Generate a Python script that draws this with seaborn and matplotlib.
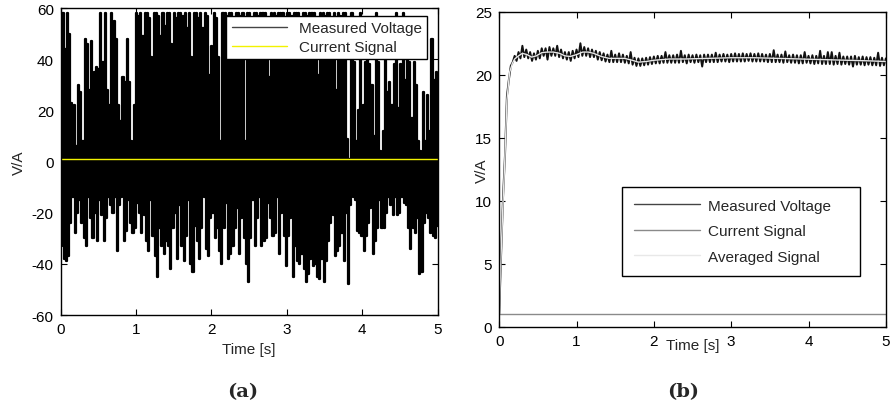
import numpy as np
import seaborn as sns
import matplotlib
matplotlib.use('Agg')
import matplotlib.pyplot as plt

sns.set_style('ticks')
plt.rcParams['font.family'] = ['Liberation Sans', 'DejaVu Sans']
plt.rcParams['font.size'] = 11
plt.rcParams['axes.unicode_minus'] = False

### panel (a) data: upper and lower peaks of the measured voltage
peaks_hi_a = [
    45, 58, 44, 58, 50, 23, 22, 6, 30, 27, 8, 48, 46, 28, 47, 35, 37, 36, 58, 39,
    58, 28, 22, 58, 55, 48, 22, 16, 33, 31, 48, 31, 8, 22,
    58, 57, 58, 49, 58, 58, 56, 41, 58, 58, 57, 49, 58, 53, 58, 58, 46, 58, 56, 58,
    58, 57, 58, 52, 58, 41, 58, 58, 56, 58, 52, 58, 57, 34, 45, 58, 56, 41, 8, 58,
    58, 57, 58, 58, 56, 58, 58, 57, 58, 8, 58, 58, 56, 58, 58, 57, 58, 58, 58, 56,
    33, 58, 58, 57, 58, 58, 58, 56, 58, 58, 57, 58, 58, 58, 56, 58, 58, 57, 58, 58,
    58, 56, 34, 58, 58, 57, 58, 58, 56, 58, 28, 58, 57, 58, 58,
    9, 1, 58, 39, 8, 20, 58, 22, 39, 40, 38, 30, 10, 58, 39, 4, 12, 40, 27, 31,
    22, 38, 58, 21, 38, 58, 32, 40, 39, 17, 39, 30, 8, 4, 27, 8, 26, 12, 48, 32, 35,
]
peaks_lo_a = [
    -33, -38, -39, -37, -24, -14, -28, -20, -15, -24,
    -30, -33, -14, -22, -30, -20, -31, -15, -21, -31,
    -22, -14, -17, -20, -14, -35, -17, -14, -31, -27,
    -15, -24, -28, -26, -16, -20, -28, -21, -31, -35,
    -15, -29, -37, -45, -26, -33, -36, -31, -33, -42,
    -26, -20, -38, -17, -33, -39, -29, -15, -40, -43,
    -25, -31, -38, -26, -14, -34, -37, -22, -20, -30,
    -26, -35, -40, -26, -16, -38, -36, -33, -26, -18,
    -36, -22, -30, -40, -47,
    -30, -15, -33, -22, -14, -33, -31, -30, -16, -22,
    -29, -28, -14, -36, -20, -29, -41, -29, -22, -45,
    -33, -39, -40, -36, -42, -47, -44, -38, -41, -40,
    -45, -46, -38, -47, -39, -31, -24, -21, -37, -35,
    -33, -28, -39, -20, -48, -17, -14, -15, -27, -28,
    -29, -35, -29, -24, -18, -36, -31, -26, -15, -26,
    -26, -20, -14, -17, -21, -14, -21, -20, -14, -16,
    -17, -26, -34, -26, -28, -22, -44, -43, -24, -20,
    -22, -28, -29, -30, -25,
]
time_ends = [0, 5]
current_a = [1, 1]

### panel (b) data
measured_b = [
    1.0, 5.8, 10.3, 13.6, 18.3, 19.6, 20.7, 21.0, 21.5, 21.1,
    21.8, 21.3, 22.3, 21.4, 22.0, 21.3, 21.8, 21.1, 21.7, 21.2,
    21.9, 21.3, 22.1, 21.5, 22.1, 21.2, 22.2, 21.5, 22.1, 21.5,
    22.3, 21.4, 22.0, 21.3, 21.8, 21.2, 21.8, 21.1, 21.9, 21.3,
    22.0, 21.4, 22.5, 21.5, 22.2, 21.5, 22.1, 21.4, 22.0, 21.4,
    21.9, 21.2, 21.8, 21.15, 21.7, 21.05, 21.6, 21.0, 21.9, 21.0,
    21.6, 21.0, 21.7, 21.0, 21.6, 20.95, 21.5, 20.9, 21.8, 20.8,
    21.35, 20.7, 21.3, 20.7, 21.3, 20.75, 21.35, 20.8, 21.4, 20.85,
    21.45, 20.9, 21.5, 20.9, 21.5, 20.95, 21.8, 20.95, 21.55, 20.95,
    21.55, 20.95, 21.6, 20.95, 21.9, 21.0, 21.55, 20.9, 21.6, 21.0,
    21.55, 20.95, 21.6, 21.0, 21.55, 20.65, 21.6, 21.0, 21.6, 21.0,
    21.6, 21.0, 21.75, 21.0, 21.6, 21.05, 21.65, 21.05, 21.6, 21.0,
    21.65, 21.05, 21.7, 21.05, 21.65, 21.05, 21.7, 21.05, 21.65, 21.1,
    21.7, 21.05, 21.65, 21.05, 21.7, 21.05, 21.65, 21.05, 21.6, 21.0,
    21.65, 21.0, 21.95, 21.0, 21.6, 21.0, 21.6, 20.95, 21.85, 21.0,
    21.55, 20.95, 21.6, 20.95, 21.55, 20.9, 21.55, 20.9, 21.8, 20.95,
    21.5, 20.9, 21.55, 20.85, 21.5, 20.9, 21.9, 20.85, 21.5, 20.85,
    21.8, 20.85, 21.8, 20.8, 21.5, 20.85, 21.75, 20.8, 21.45, 20.85,
    21.45, 20.8, 21.45, 20.65, 21.5, 20.8, 21.4, 20.8, 21.45, 20.75,
    21.4, 20.8, 21.4, 20.75, 21.35, 20.75, 21.75, 20.7, 21.35, 20.75,
    21.3,
]
time_avg_b = [0, 0.02, 0.05, 0.07, 0.10, 0.135, 0.17, 0.2, 0.25, 0.3,
              0.36, 0.42, 0.48, 0.55, 0.62, 0.7, 0.78, 0.85, 0.92, 1.0,
              1.08, 1.15, 1.22, 1.32, 1.42, 1.52, 1.62, 1.72, 1.8, 1.9,
              2.0, 2.2, 2.4, 2.7, 3.0, 3.3, 3.6, 3.9, 4.2, 4.5, 4.8, 5.0]
averaged_b = [1.0, 5.0, 10.0, 12.8, 18.0, 20.2, 20.9, 21.25, 21.5, 21.7,
              21.6, 21.4, 21.5, 21.75, 21.8, 21.8, 21.7, 21.5, 21.45, 21.6,
              21.8, 21.8, 21.7, 21.45, 21.3, 21.3, 21.3, 21.15, 21.0, 21.05,
              21.15, 21.25, 21.25, 21.3, 21.35, 21.35, 21.3, 21.25, 21.2, 21.15,
              21.1, 21.05]
current_b = [1, 1]

# interleave peaks into one sampled signal
volt_a = np.empty(len(peaks_hi_a) + len(peaks_lo_a))
volt_a[0::2] = peaks_hi_a
volt_a[1::2] = peaks_lo_a
time_a = np.linspace(0, 5, volt_a.size)
time_b = np.linspace(0, 5, len(measured_b))

fig = plt.figure(figsize=(8.93, 4.10), dpi=100)
ax1 = fig.add_axes([0.068, 0.229, 0.422, 0.749])
ax2 = fig.add_axes([0.559, 0.200, 0.433, 0.769])

### (a)
sns.lineplot(x=time_a, y=volt_a, ax=ax1, color='black', lw=1.6, drawstyle='steps-mid',
             label='Measured Voltage', estimator=None, sort=False)
sns.lineplot(x=time_ends, y=current_a, ax=ax1, color='#f2f200', lw=1.0,
             label='Current Signal', estimator=None)
ax1.set_xlim(0, 5)
ax1.set_ylim(-60, 60)
ax1.set_yticks(range(-60, 61, 20))
ax1.set_xlabel('Time [s]', labelpad=4)
ax1.set_ylabel('V/A')
leg = ax1.legend(loc='upper right', bbox_to_anchor=(0.973, 0.974), borderaxespad=0,
                 fancybox=False, edgecolor='black', framealpha=1, fontsize=11,
                 handlelength=3.6, labelspacing=0.3, borderpad=0.35)
leg.get_frame().set_linewidth(1.0)
leg.get_lines()[0].set_linewidth(1.0)
leg.get_lines()[0].set_color('#444444')

### (b)
sns.lineplot(x=time_b, y=measured_b, ax=ax2, color='#111111', lw=1.4,
             label='Measured Voltage', estimator=None, sort=False)
sns.lineplot(x=time_ends, y=current_b, ax=ax2, color='#8a8a8a', lw=1.0,
             label='Current Signal', estimator=None)
sns.lineplot(x=time_avg_b, y=averaged_b, ax=ax2, color='#e8e8e8', lw=1.0,
             label='Averaged Signal', estimator=None, sort=False)
ax2.set_xlim(0, 5)
ax2.set_ylim(0, 25)
ax2.set_yticks(range(0, 26, 5))
ax2.set_xlabel('Time [s]', labelpad=-7)
ax2.set_ylabel('V/A', labelpad=-10)
leg = ax2.legend(loc='lower left', bbox_to_anchor=(0.318, 0.162, 0.615, 0.285),
                 mode='expand', borderaxespad=0,
                 fancybox=False, edgecolor='black', framealpha=1, fontsize=11,
                 handlelength=4.3, handletextpad=0.5, labelspacing=0.75, borderpad=0.8)
leg.get_frame().set_linewidth(1.0)
leg.get_lines()[0].set_linewidth(1.0)
leg.get_lines()[0].set_color('#444444')

for ax in (ax1, ax2):
    ax.set_xticks(range(0, 6))
    ax.tick_params(direction='in', top=True, right=True, length=4, width=0.8,
                   labelsize=11, colors='black', pad=5)
    for sp in ax.spines.values():
        sp.set_visible(True)
        sp.set_linewidth(1.0)
        sp.set_color('black')

fig.text(0.272, 0.044, '(a)', family='DejaVu Serif', fontweight='bold', fontsize=14,
         ha='center', va='center')
fig.text(0.765, 0.044, '(b)', family='DejaVu Serif', fontweight='bold', fontsize=14,
         ha='center', va='center')

fig.savefig('out.png', dpi=100)
